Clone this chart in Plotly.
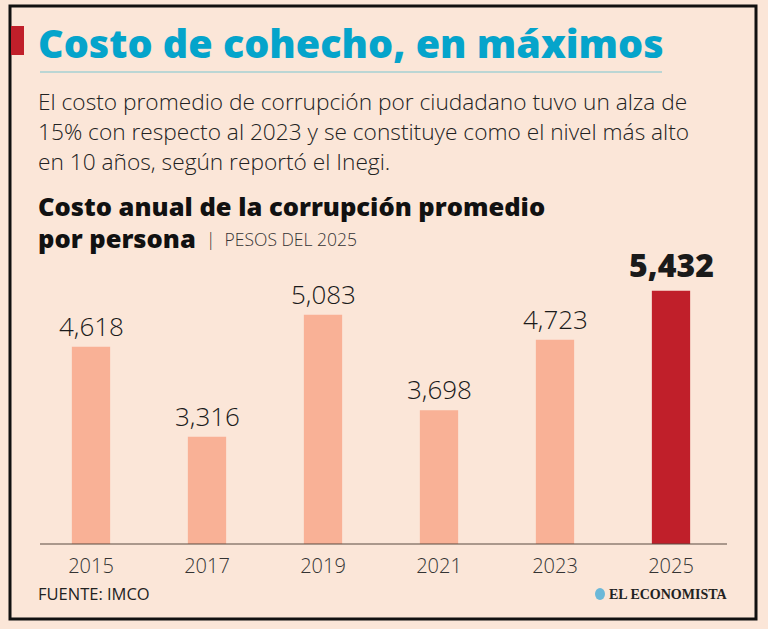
import plotly.graph_objects as go

years = ["2015", "2017", "2019", "2021", "2023", "2025"]
values = [4618, 3316, 5083, 3698, 4723, 5432]
bar_colors = ["#F9B196", "#F9B196", "#F9B196", "#F9B196", "#F9B196", "#C01F2A"]

W, H = 768, 629
L, R, T, B = 33, 39, 250, 85
PW, PH = W - L - R, H - T - B
BG = "#FBE6D8"
FONT = "Open Sans"

def px(x):
    return (x - L) / PW

def py(y):
    return (H - B - y) / PH

fig = go.Figure()
fig.add_trace(go.Bar(
    x=years, y=values, marker=dict(color=bar_colors, line=dict(width=0)),
    hoverinfo="skip", width=0.33,
))

ann = []
for i, (yr, v) in enumerate(zip(years, values)):
    big = yr == "2025"
    ann.append(dict(
        x=i, y=v, xref="x", yref="y", text=f"{v:,}", showarrow=False,
        yanchor="bottom", yshift=1 if not big else 3,
        font=dict(family=FONT, size=26 if not big else 32,
                  weight=300 if not big else 800, color="#1a1a1a"),
    ))

def txt(x, y, text, size, color="#1a1a1a", weight=400, family=FONT, xanchor="left", yanchor="middle"):
    ann.append(dict(x=px(x), y=py(y), xref="paper", yref="paper", text=text,
                    showarrow=False, xanchor=xanchor, yanchor=yanchor,
                    font=dict(family=family, size=size, color=color, weight=weight)))

txt(36, 43, "Costo de cohecho, en máximos", 39.5, color="#05A4CB", weight=800)
txt(36, 101, "El costo promedio de corrupción por ciudadano tuvo un alza de", 22.7, color="#222", weight=300)
txt(36, 131, "15% con respecto al 2023 y se constituye como el nivel más alto", 22.7, color="#222", weight=300)
txt(36, 161, "en 10 años, según reportó el Inegi.", 22.7, color="#222", weight=300)
txt(36, 206, "Costo anual de la corrupción promedio", 25.5, color="#111", weight=800)
txt(36, 238, "por persona", 25.5, color="#111", weight=800)
txt(204, 239, "|  PESOS DEL 2025", 17.5, color="#333", weight=300)
txt(36, 593, "FUENTE: IMCO", 16.5, color="#222", weight=400)
txt(729, 594, "EL ECONOMISTA", 14, color="#222", weight=700, family="Liberation Serif", xanchor="right")

shapes = [
    dict(type="rect", xref="paper", yref="paper", x0=px(10), x1=px(756), y0=py(6), y1=py(619),
         line=dict(color="#111", width=3), fillcolor="rgba(0,0,0,0)", layer="below"),
    dict(type="rect", xref="paper", yref="paper", x0=px(11), x1=px(24), y0=py(26), y1=py(55),
         line=dict(width=0), fillcolor="#C01F2A"),
    dict(type="line", xref="paper", yref="paper", x0=px(40), x1=px(662), y0=py(72), y1=py(72),
         line=dict(color="#7DC5CF", width=1.2)),
    dict(type="line", xref="paper", yref="paper", x0=px(40), x1=px(727), y0=py(544), y1=py(544),
         line=dict(color="#5a4a40", width=1.2)),
    dict(type="circle", xref="paper", yref="paper", x0=px(595), x1=px(605), y0=py(588), y1=py(600),
         line=dict(width=0), fillcolor="#6BB8D8"),
]

fig.update_layout(
    width=W, height=H, margin=dict(l=L, r=R, t=T, b=B),
    paper_bgcolor=BG, plot_bgcolor=BG, showlegend=False,
    annotations=ann, shapes=shapes,
    xaxis=dict(type="category", categoryorder="array", categoryarray=years, range=[-0.5, 5.5],
               showgrid=False, showline=False, zeroline=False, ticks="", ticklabelstandoff=8,
               tickfont=dict(family=FONT, size=20, color="#333", weight=300), fixedrange=True),
    yaxis=dict(range=[1761, 6022], visible=False, fixedrange=True),
)
fig.write_html("out.html")
